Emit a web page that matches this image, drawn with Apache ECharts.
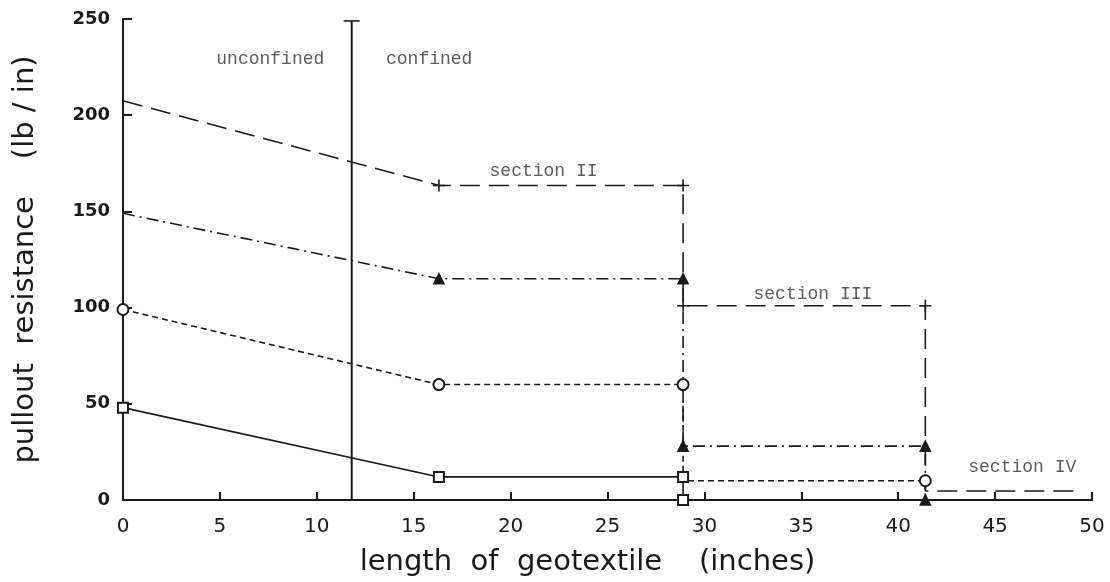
<!DOCTYPE html>
<html>
<head>
<meta charset="utf-8">
<script src="https://cdn.jsdelivr.net/npm/echarts@6/dist/echarts.min.js"></script>
<style>html,body{margin:0;padding:0;background:#fff}#c{width:1110px;height:582px}</style>
</head>
<body>
<div id="c"></div>
<script>
// ---- data ----
const xTicks = [0, 5, 10, 15, 20, 25, 30, 35, 40, 45, 50];
const yTicks = [0, 50, 100, 150, 200, 250];
const boundaryX = 11.8;  // unconfined / confined boundary
const plusLine = [[0, 207.5], [16.3, 163.5], [28.9, 163.5], [28.9, 101], [41.4, 101], [41.4, 4.7], [49.4, 4.7]];
const plusMarks = [false, true, true, true, true, false, false];
const triLine = [[0, 149], [16.3, 115], [28.9, 115], [28.9, 28], [41.4, 28], [41.4, 0]];
const triMarks = [false, true, true, true, true, true];
const circLine = [[0, 99], [16.3, 60], [28.9, 60], [28.9, 10], [41.4, 10], [41.4, 0]];
const circMarks = [true, true, true, false, true, false];
const sqLine = [[0, 48], [16.3, 12], [28.9, 12], [28.9, 0]];
const sqMarks = [true, true, true, true];
const notes = [
  { text: 'unconfined', x: 7.6, y: 229 },
  { text: 'confined', x: 15.8, y: 229 },
  { text: 'section II', x: 21.7, y: 171 },
  { text: 'section III', x: 35.6, y: 107 },
  { text: 'section IV', x: 46.4, y: 17 }
];

const ink = '#1a1a1a';
const plusPath = 'path://M0,5L10,5M5,0L5,10';

function mk(line, marks, symbol, size, dash, fill) {
  return {
    type: 'line',
    data: line.map((p, i) => ({ value: p, symbol: marks[i] ? symbol : 'none' })),
    symbol: symbol,
    symbolSize: size,
    showAllSymbol: true,
    lineStyle: { color: ink, width: 1.6, type: dash },
    itemStyle: { color: fill, borderColor: ink, borderWidth: 1.6 },
    z: 3,
    animation: false
  };
}

const chart = echarts.init(document.getElementById('c'));
chart.setOption({
  backgroundColor: '#fff',
  animation: false,
  grid: { left: 123, right: 18, top: 19, bottom: 82 },
  xAxis: {
    type: 'value', min: 0, max: 50, interval: 5,
    name: 'length  of  geotextile    (inches)', nameLocation: 'middle', nameGap: 48,
    nameTextStyle: { fontFamily: 'DejaVu Sans', fontSize: 29, color: ink, padding: [0, 40, 0, 0] },
    axisLine: { lineStyle: { color: ink, width: 2 } },
    axisTick: { inside: true, length: 8, lineStyle: { color: ink, width: 2 } },
    axisLabel: { fontFamily: 'DejaVu Sans', fontSize: 20, color: ink, margin: 17,
      formatter: v => xTicks.includes(v) ? String(v) : '' },
    splitLine: { show: false }
  },
  yAxis: {
    type: 'value', min: 0, max: 250, interval: 50,
    name: 'pullout  resistance    (lb / in)', nameLocation: 'middle', nameGap: 83,
    nameTextStyle: { fontFamily: 'DejaVu Sans', fontSize: 29, color: ink },
    axisLine: { show: true, lineStyle: { color: ink, width: 2 } },
    axisTick: { show: true, inside: true, length: 9, lineStyle: { color: ink, width: 2 } },
    axisLabel: { fontFamily: 'DejaVu Sans', fontSize: 18, fontWeight: 'bold', color: ink, margin: 13,
      formatter: v => yTicks.includes(v) ? String(v) : '' },
    splitLine: { show: false }
  },
  series: [
    {
      type: 'line', data: [[boundaryX, 0], [boundaryX, 249]], symbol: 'none',
      lineStyle: { color: ink, width: 2, type: 'solid' }, z: 2, animation: false
    },
    {
      type: 'scatter', data: [[boundaryX, 249]], symbol: 'rect', symbolSize: [16, 2],
      itemStyle: { color: ink }, z: 2, animation: false
    },
    mk(plusLine, plusMarks, plusPath, 12, [20, 9], 'rgba(0,0,0,0)'),
    mk(triLine, triMarks, 'triangle', 10, [12, 5, 2, 5], ink),
    mk(circLine, circMarks, 'emptyCircle', 11, [6, 4], ink),
    mk(sqLine, sqMarks, 'emptyRect', 10, 'solid', ink),
    {
      type: 'scatter', symbolSize: 0, animation: false, z: 5,
      data: notes.map(n => ({ value: [n.x, n.y], name: n.text })),
      label: { show: true, position: 'inside', formatter: p => p.name,
        fontFamily: 'Liberation Mono', fontSize: 18, color: '#333' }
    }
  ]
});
</script>
</body>
</html>
